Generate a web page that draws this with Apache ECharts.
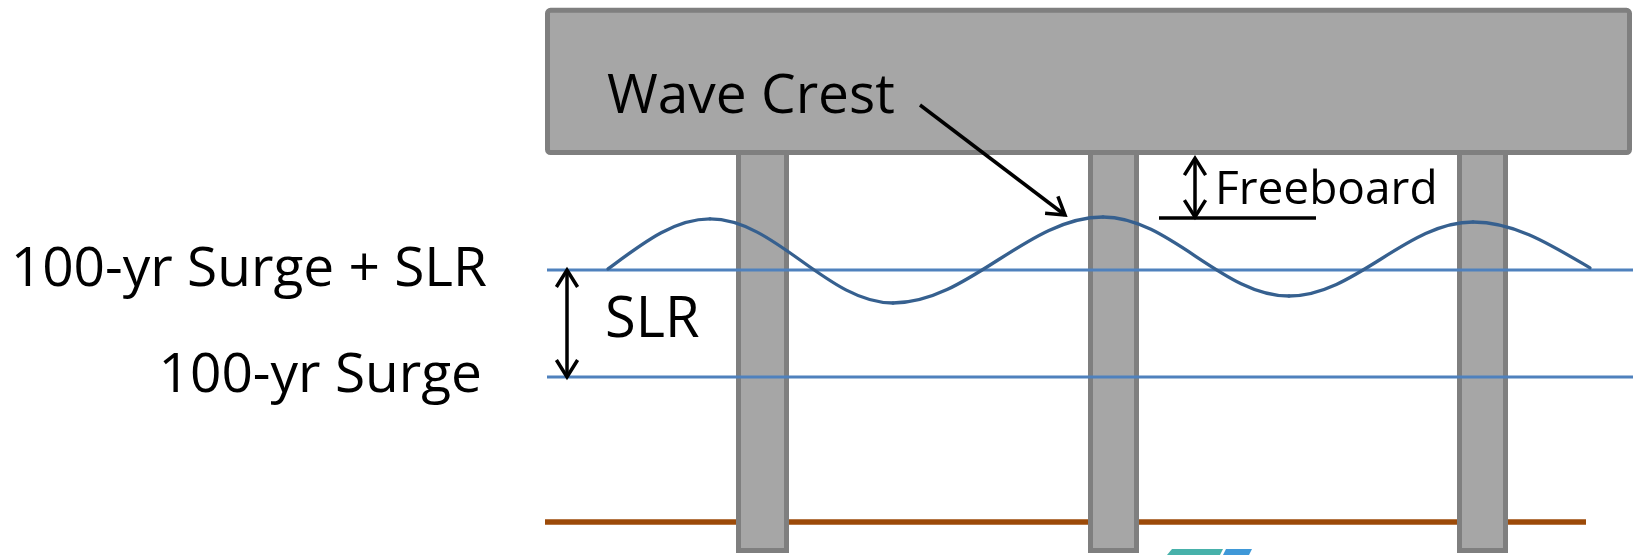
<!DOCTYPE html>
<html>
<head>
<meta charset="utf-8">
<script src="https://cdn.jsdelivr.net/npm/echarts@6/dist/echarts.min.js"></script>
<style>
  html, body { margin: 0; padding: 0; background: #ffffff; }
  #chart { width: 1636px; height: 555px; }
</style>
</head>
<body>
<div id="chart"></div>
<script>
// ---- Diagram data (x: horizontal distance, y: elevation; 100-yr surge = 10, SLR = 2) ----
const xRange = [0, 81.8];
const yRange = [6.673, 17.047];

const deckX = [27.25, 81.6];
const deckY = [14.15, 16.9];

const pileLeft  = [36.8, 54.4, 72.85];
const pileRight = [39.45, 56.95, 75.4];
const pileBottom = 6.71;
const pileTop = 15.0;

const waterNames  = ['100-yr Surge + SLR', '100-yr Surge'];
const waterLevels = [12, 10];
const waterX = [27.35, 81.65];

const mudlineY = 7.29;
const mudlineX = [27.25, 79.3];

const waveX = [30.4, 35.5, 44.65, 55.15, 64.45, 73.65, 79.5];
const waveY = [12.02, 12.954, 11.383, 12.991, 11.514, 12.897, 12.04];

// arrows: from (x1,y1) to (x2,y2), heads at start / end
const arrowX1 = [28.35, 59.75, 57.95, 46.0];
const arrowY1 = [12.0, 14.09, 12.97, 15.084];
const arrowX2 = [28.35, 59.75, 65.8, 53.25];
const arrowY2 = [10.0, 12.99, 12.97, 13.028];
const arrowStartHead = [1, 1, 0, 0];
const arrowEndHead   = [1, 1, 0, 1];

const labelText = ['Wave Crest', 'Freeboard', 'SLR', waterNames[0], waterNames[1]];
const labelX = [30.35, 60.75, 30.25, 24.35, 24.1];
const labelY = [15.235, 13.48, 11.04, 11.985, 10.02];
const labelAnchor = ['left', 'left', 'left', 'right', 'right'];
const labelSize = [55, 46, 56, 55, 55];

// small logo fragment at the bottom edge
const logoTealX = [58.35, 58.6, 61.15, 61.0];
const logoTealY = [6.673, 6.785, 6.785, 6.673];
const logoBlueX = [61.15, 61.3, 62.6, 62.45];
const logoBlueY = [6.673, 6.785, 6.785, 6.673];

// ---- Rendering ----
const FONT = '"Open Sans", "Liberation Sans", Arial, sans-serif';
const chart = echarts.init(document.getElementById('chart'), null, { renderer: 'canvas' });

function rectEl(api, x0, x1, y0, y1, fill, stroke, lw, r) {
  const a = api.coord([x0, y1]);
  const b = api.coord([x1, y0]);
  return {
    type: 'rect',
    shape: { x: a[0] + lw / 2, y: a[1] + lw / 2, width: b[0] - a[0] - lw, height: b[1] - a[1] - lw, r: r || 0 },
    style: { fill: fill, stroke: stroke, lineWidth: lw }
  };
}

function headPts(tip, from, len, ang) {
  const dx = from[0] - tip[0], dy = from[1] - tip[1];
  const d = Math.sqrt(dx * dx + dy * dy);
  const ux = dx / d, uy = dy / d;
  const c = Math.cos(ang), s = Math.sin(ang);
  const p1 = [tip[0] + len * (ux * c - uy * s), tip[1] + len * (ux * s + uy * c)];
  const p2 = [tip[0] + len * (ux * c + uy * s), tip[1] + len * (-ux * s + uy * c)];
  return [p1, tip, p2];
}

const option = {
  animation: false,
  backgroundColor: '#ffffff',
  grid: { left: 0, right: 0, top: 0, bottom: 0 },
  xAxis: { type: 'value', min: xRange[0], max: xRange[1], show: false },
  yAxis: { type: 'value', min: yRange[0], max: yRange[1], show: false },
  series: [
    {
      name: 'Mudline', type: 'line', z: 1, symbol: 'none', silent: true,
      data: [[mudlineX[0], mudlineY], [mudlineX[1], mudlineY]],
      lineStyle: { color: '#9c4a08', width: 5.5 }
    },
    {
      name: 'Piles', type: 'custom', z: 2, silent: true,
      data: pileLeft.map((x, i) => [x, pileRight[i]]),
      renderItem: function (params, api) {
        const i = params.dataIndex;
        return rectEl(api, pileLeft[i], pileRight[i], pileBottom, pileTop, '#a6a6a6', '#7f7f7f', 5, 0);
      }
    },
    {
      name: 'Deck', type: 'custom', z: 3, silent: true,
      data: [[deckX[0], deckY[0]]],
      renderItem: function (params, api) {
        return rectEl(api, deckX[0], deckX[1], deckY[0], deckY[1], '#a6a6a6', '#7f7f7f', 5, 3);
      }
    },
    {
      name: waterNames[0], type: 'line', z: 4, symbol: 'none', silent: true,
      data: [[waterX[0], waterLevels[0]], [waterX[1], waterLevels[0]]],
      lineStyle: { color: '#4f81bd', width: 3 }
    },
    {
      name: waterNames[1], type: 'line', z: 4, symbol: 'none', silent: true,
      data: [[waterX[0], waterLevels[1]], [waterX[1], waterLevels[1]]],
      lineStyle: { color: '#4f81bd', width: 3 }
    },
    {
      name: 'Wave', type: 'custom', z: 5, silent: true,
      data: waveX.map((x, i) => [x, waveY[i]]),
      renderItem: function (params, api) {
        const i = params.dataIndex;
        if (i === 0) return { type: 'group', children: [] };
        const n = waveX.length;
        const A = api.coord([waveX[i - 1], waveY[i - 1]]);
        const B = api.coord([waveX[i], waveY[i]]);
        const dx = B[0] - A[0];
        const chord = (B[1] - A[1]) / dx;
        let cp1, cp2;
        if (i - 1 === 0) { const m = 1.5 * chord; cp1 = [A[0] + dx / 3, A[1] + m * dx / 3]; }
        else cp1 = [A[0] + 0.36 * dx, A[1]];
        if (i === n - 1) { const m = 1.5 * chord; cp2 = [B[0] - dx / 3, B[1] - m * dx / 3]; }
        else cp2 = [B[0] - 0.36 * dx, B[1]];
        return {
          type: 'bezierCurve',
          shape: { x1: A[0], y1: A[1], x2: B[0], y2: B[1], cpx1: cp1[0], cpy1: cp1[1], cpx2: cp2[0], cpy2: cp2[1] },
          style: { stroke: '#36608f', lineWidth: 3.3, fill: null, lineCap: 'round' }
        };
      }
    },
    {
      name: 'Arrows', type: 'custom', z: 6, silent: true,
      data: arrowX1.map((x, i) => [x, arrowY1[i]]),
      renderItem: function (params, api) {
        const i = params.dataIndex;
        const p1 = api.coord([arrowX1[i], arrowY1[i]]);
        const p2 = api.coord([arrowX2[i], arrowY2[i]]);
        const st = { stroke: '#000000', lineWidth: 3.5, fill: null, lineJoin: 'miter' };
        const children = [{ type: 'line', shape: { x1: p1[0], y1: p1[1], x2: p2[0], y2: p2[1] }, style: st }];
        const ang = 32 * Math.PI / 180;
        if (arrowStartHead[i]) children.push({ type: 'polyline', shape: { points: headPts(p1, p2, 20, ang) }, style: st });
        if (arrowEndHead[i]) children.push({ type: 'polyline', shape: { points: headPts(p2, p1, 20, ang) }, style: st });
        return { type: 'group', children: children };
      }
    },
    {
      name: 'Logo', type: 'custom', z: 6, silent: true,
      data: [[logoTealX[0], logoTealY[0]], [logoBlueX[0], logoBlueY[0]]],
      renderItem: function (params, api) {
        const xs = params.dataIndex === 0 ? logoTealX : logoBlueX;
        const ys = params.dataIndex === 0 ? logoTealY : logoBlueY;
        const pts = xs.map((x, k) => api.coord([x, ys[k]]));
        return { type: 'polygon', shape: { points: pts }, style: { fill: params.dataIndex === 0 ? '#47b1aa' : '#3f98d8' } };
      }
    },
    {
      name: 'Labels', type: 'custom', z: 7, silent: true,
      data: labelX.map((x, i) => [x, labelY[i]]),
      renderItem: function (params, api) {
        const i = params.dataIndex;
        const p = api.coord([labelX[i], labelY[i]]);
        return {
          type: 'text', x: p[0], y: p[1],
          style: {
            text: labelText[i], fill: '#000000',
            font: labelSize[i] + 'px ' + FONT,
            align: labelAnchor[i], verticalAlign: 'middle'
          }
        };
      }
    }
  ]
};

chart.setOption(option);
</script>
</body>
</html>
